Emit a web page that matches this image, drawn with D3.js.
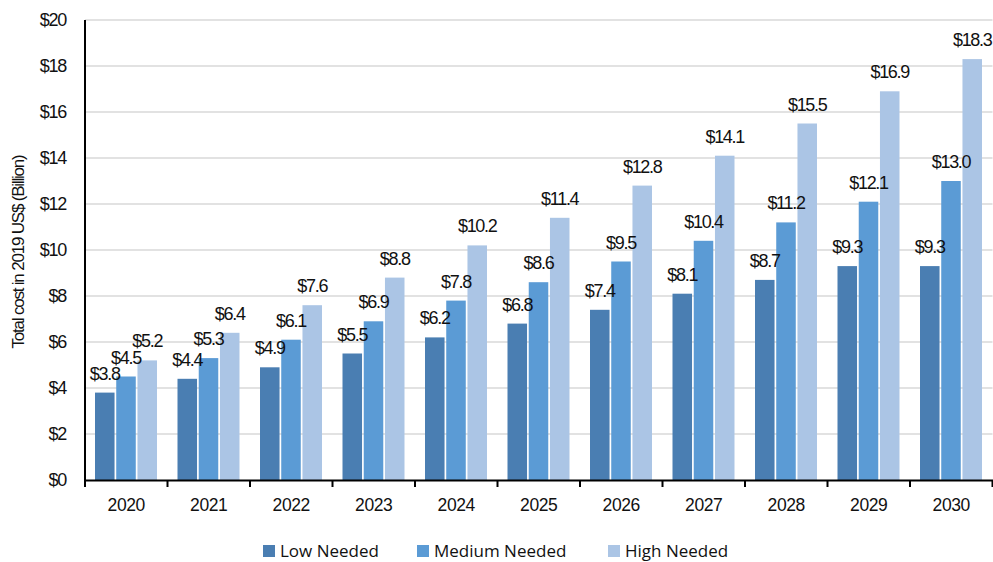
<!DOCTYPE html>
<html>
<head>
<meta charset="utf-8">
<script src="https://cdn.jsdelivr.net/npm/d3@7"></script>
<style>
  body { margin: 0; background: #fff; }
  svg { display: block; font-family: "Liberation Sans", Arial, sans-serif; }
</style>
</head>
<body>
<svg width="993" height="562"></svg>
<script>
const years = ["2020", "2021", "2022", "2023", "2024", "2025", "2026", "2027", "2028", "2029", "2030"];
const seriesNames = ["Low Needed", "Medium Needed", "High Needed"];
const lowNeeded = [3.8, 4.4, 4.9, 5.5, 6.2, 6.8, 7.4, 8.1, 8.7, 9.3, 9.3];
const mediumNeeded = [4.5, 5.3, 6.1, 6.9, 7.8, 8.6, 9.5, 10.4, 11.2, 12.1, 13.0];
const highNeeded = [5.2, 6.4, 7.6, 8.8, 10.2, 11.4, 12.8, 14.1, 15.5, 16.9, 18.3];
const yTicks = [0, 2, 4, 6, 8, 10, 12, 14, 16, 18, 20];
const colors = ["#4a7eb2", "#5b9bd5", "#abc5e5"];

const svg = d3.select("svg");
const margin = { top: 20, left: 85, right: 0.5, bottom: 82 };
const width = 993 - margin.left - margin.right;
const height = 562 - margin.top - margin.bottom;

const g = svg.append("g").attr("transform", `translate(${margin.left},${margin.top})`);

const x = d3.scaleBand().domain(years).range([0, width]);
const xs = d3.scaleBand().domain(seriesNames).range([10, x.bandwidth() - 10.5]).paddingInner(0.08);
const y = d3.scaleLinear().domain([0, 20]).range([height, 0]);

// gridlines
g.selectAll(".grid")
  .data(yTicks.filter(d => d > 0))
  .enter().append("line")
  .attr("x1", 0).attr("x2", width)
  .attr("y1", d => y(d)).attr("y2", d => y(d))
  .attr("stroke", "#d9d9d9").attr("stroke-width", 1.3);

// y axis labels
const yAxis = g.append("g").call(d3.axisLeft(y).tickValues(yTicks).tickSize(0).tickPadding(19).tickFormat(d => "$" + d));
yAxis.select(".domain").remove();
yAxis.selectAll("text").attr("font-size", 18).attr("letter-spacing", "-1.3").attr("fill", "#111")
  .attr("font-family", "Liberation Sans, sans-serif");

const data = years.map((yr, i) => ({ year: yr, values: [lowNeeded[i], mediumNeeded[i], highNeeded[i]] }));

const groups = g.selectAll(".yr")
  .data(data)
  .enter().append("g")
  .attr("transform", d => `translate(${x(d.year)},0)`);

groups.selectAll("rect")
  .data(d => d.values.map((v, j) => ({ v, name: seriesNames[j], j })))
  .enter().append("rect")
  .attr("x", d => xs(d.name))
  .attr("y", d => y(d.v))
  .attr("width", xs.bandwidth())
  .attr("height", d => height - y(d.v))
  .attr("fill", d => colors[d.j]);

groups.selectAll(".lbl")
  .data(d => d.values.map((v, j) => ({ v, name: seriesNames[j] })))
  .enter().append("text")
  .attr("x", d => xs(d.name) + xs.bandwidth() / 2)
  .attr("y", d => y(d.v) - 13)
  .attr("text-anchor", "middle")
  .attr("font-size", 18)
  .attr("letter-spacing", "-1.3")
  .attr("fill", "#111")
  .text(d => "$" + d.v.toFixed(1));

// axes lines
g.append("line").attr("x1", 0).attr("x2", 0).attr("y1", 0).attr("y2", height)
  .attr("stroke", "#000").attr("stroke-width", 2);

const xAxis = g.append("g").attr("transform", `translate(0,${height})`)
  .call(d3.axisBottom(x).tickSize(0).tickPadding(19));
xAxis.select(".domain").attr("stroke", "#000").attr("stroke-width", 2);
xAxis.selectAll("text").attr("font-size", 17.5).attr("letter-spacing", "-0.4").attr("fill", "#111");

// tick marks between categories
g.selectAll(".xtick")
  .data(d3.range(years.length + 1))
  .enter().append("line")
  .attr("x1", i => i * x.step()).attr("x2", i => i * x.step())
  .attr("y1", height).attr("y2", height + 7)
  .attr("stroke", "#000").attr("stroke-width", 2);

// y axis title
svg.append("text")
  .attr("transform", "translate(24,252) rotate(-90)")
  .attr("text-anchor", "middle")
  .attr("font-size", 17)
  .attr("letter-spacing", "-1.2")
  .attr("fill", "#111")
  .text("Total cost in 2019 US$ (Billion)");

// legend
const legendX = [263, 417, 608];
const legend = svg.append("g");
seriesNames.forEach((name, i) => {
  legend.append("rect").attr("x", legendX[i]).attr("y", 545).attr("width", 12).attr("height", 12).attr("fill", colors[i]);
  legend.append("text").attr("x", legendX[i] + 17).attr("y", 557)
    .attr("font-size", 17).attr("fill", "#111")
    .attr("font-family", "Open Sans, sans-serif")
    .text(name);
});
</script>
</body>
</html>
